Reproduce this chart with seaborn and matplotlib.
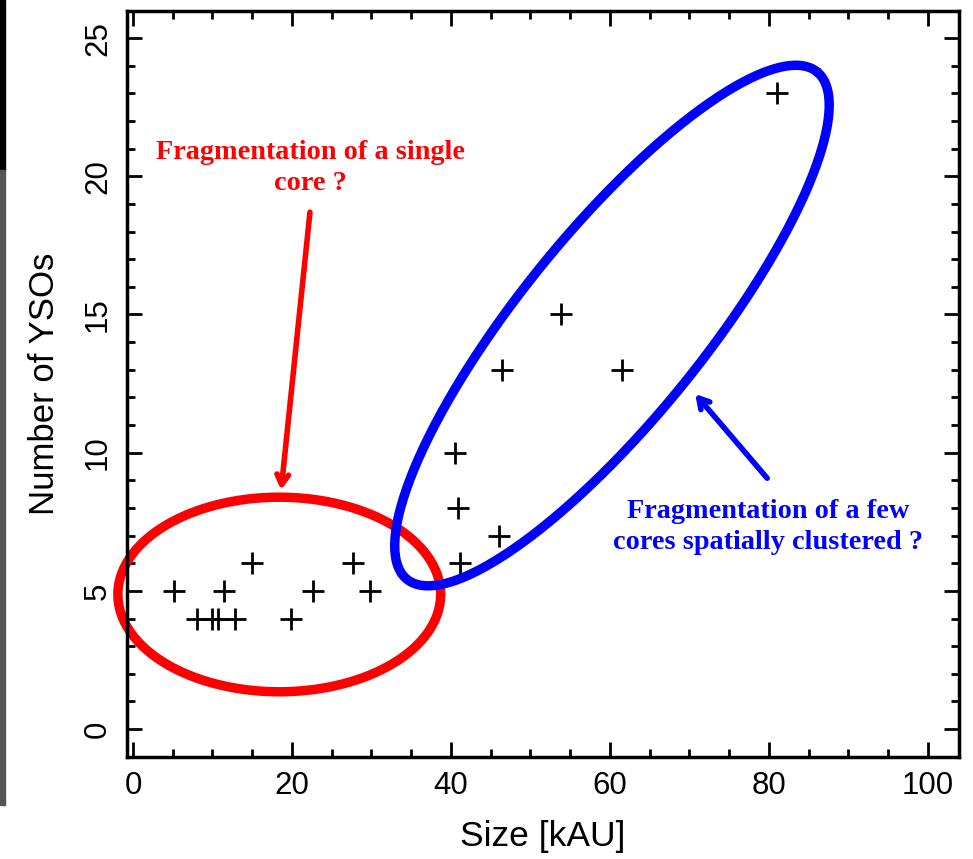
import numpy as np
import pandas as pd
import seaborn as sns
import matplotlib
matplotlib.use("Agg")
import matplotlib.pyplot as plt
from matplotlib.ticker import MultipleLocator
from matplotlib.patches import Rectangle

# ---- data ----
size_kau = [5.2, 8.0, 10.0, 10.7, 12.8, 11.4, 15.0, 19.9, 22.7, 27.7, 29.8,
            41.1, 40.5, 40.9, 46.0, 46.4, 53.8, 61.5, 81.0]
n_ysos = [5, 4, 4, 4, 4, 5, 6, 4, 5, 6, 5,
          6, 10, 8, 7, 13, 15, 13, 23]

x_ticks = [0, 20, 40, 60, 80, 100]
y_ticks = [0, 5, 10, 15, 20, 25]

red_label = "Fragmentation of a single\ncore ?"
blue_label = "Fragmentation of a few\ncores spatially clustered ?"

# ellipse annotations (data units: center, conjugate half-axes)
red_center = (18.4, 4.87)
red_halfaxes = ((20.3, 0.0), (0.0, 3.52))
blue_center = (60.25, 14.6)
blue_halfaxes = ((25.79, 9.18), (-9.03, 2.10))

df = pd.DataFrame({"size": size_kau, "n": n_ysos})

sns.set_theme(style="white")
plt.rcParams["font.family"] = ["Liberation Sans", "DejaVu Sans"]
plt.rcParams["text.color"] = "black"
plt.rcParams["axes.labelcolor"] = "black"
plt.rcParams["xtick.color"] = "black"
plt.rcParams["ytick.color"] = "black"

fig = plt.figure(figsize=(9.73, 8.59), dpi=100)
ax = fig.add_axes([127/973, 1 - 757/859, (959-127)/973, (757-11)/859])

sns.scatterplot(data=df, x="size", y="n", marker="+", s=250, color="black",
                linewidth=2.0, ax=ax, zorder=3)

t = np.linspace(0, 2*np.pi, 400)
def ell(c, ax_):
    (ux, uy), (vx, vy) = ax_
    return c[0] + np.cos(t)*ux + np.sin(t)*vx, c[1] + np.cos(t)*uy + np.sin(t)*vy

rx, ry = ell(red_center, red_halfaxes)
ax.plot(rx, ry, color="#ff0000", lw=6.8, zorder=2, clip_on=False)
bx, by = ell(blue_center, blue_halfaxes)
ax.plot(bx, by, color="#0000ff", lw=6.8, zorder=2.5, clip_on=False)

ax.set_xlim(-0.75, 103.9)
ax.set_ylim(-1.01, 25.98)
ax.set_xticks(x_ticks)
ax.set_yticks(y_ticks)
ax.xaxis.set_minor_locator(MultipleLocator(5))
ax.yaxis.set_minor_locator(MultipleLocator(1))
ax.tick_params(which="both", direction="in", top=True, right=True,
               left=True, bottom=True, width=2, color="black")
ax.tick_params(which="major", length=11, labelsize=22.5, pad=10,
               labelcolor="black")
ax.tick_params(which="minor", length=6)
for lab in ax.get_yticklabels():
    lab.set_rotation(90)
    lab.set_va("center")
for sp in ax.spines.values():
    sp.set_linewidth(2.5)
    sp.set_color("black")

ax.set_xlabel("Size [kAU]", fontsize=25.5, labelpad=14, color="black")
ax.set_ylabel("Number of YSOs", fontsize=25, labelpad=16, color="black")

ax.text(22.3, 20.3, red_label, color="#ff0000", fontsize=20.3, fontweight="bold",
        family=["Liberation Serif", "DejaVu Serif"], ha="center", va="center",
        linespacing=1.33)
ax.text(79.9, 7.31, blue_label, color="#0000ff", fontsize=20.3, fontweight="bold",
        family=["Liberation Serif", "DejaVu Serif"], ha="center", va="center",
        linespacing=1.33)

ax.annotate("", xy=(18.6, 8.55), xytext=(22.3, 18.8),
            arrowprops=dict(arrowstyle="->,head_length=0.6,head_width=0.35",
                            color="#ff0000", lw=4))
ax.annotate("", xy=(70.5, 12.2), xytext=(80.0, 9.0),
            arrowprops=dict(arrowstyle="->,head_length=0.6,head_width=0.35",
                            color="#0000ff", lw=4))

# screenshot edge strip
fig.patches.append(Rectangle((0, 1 - 170/859), 5/973, 170/859, transform=fig.transFigure,
                             color="black", zorder=0))
fig.patches.append(Rectangle((0, 1 - 805/859), 5/973, (805-170)/859, transform=fig.transFigure,
                             color="#555555", zorder=0))

fig.savefig("out.png", dpi=100)
